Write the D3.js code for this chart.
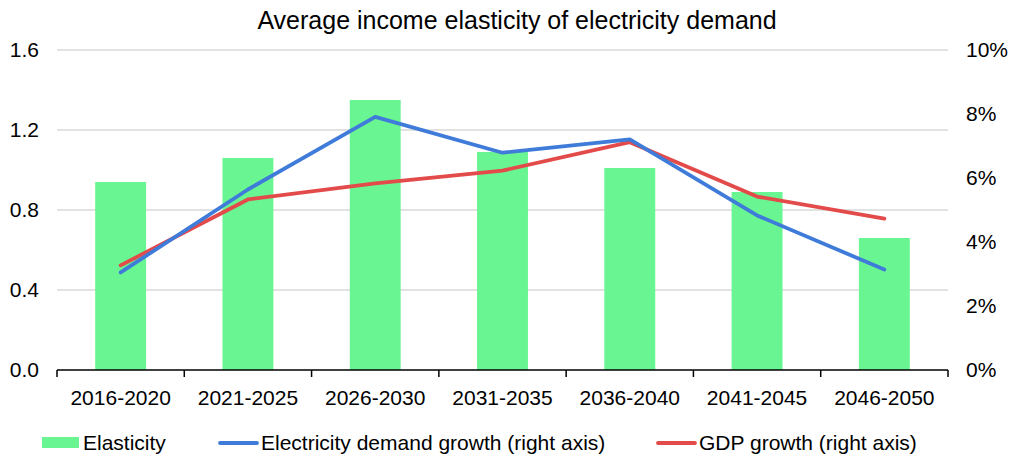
<!DOCTYPE html>
<html>
<head>
<meta charset="utf-8">
<script src="https://cdn.jsdelivr.net/npm/d3@7"></script>
<style>
  html, body { margin: 0; padding: 0; background: #fff; }
  svg { display: block; font-family: "Liberation Sans", Arial, sans-serif; }
</style>
</head>
<body>
<svg id="chart" width="1012" height="457"></svg>
<script>
// Periods and series
const periods = ["2016-2020", "2021-2025", "2026-2030", "2031-2035", "2036-2040", "2041-2045", "2046-2050"];
const elasticity = [0.94, 1.06, 1.35, 1.09, 1.01, 0.89, 0.66];
const demandGrowth = [3.05, 5.64, 7.91, 6.79, 7.21, 4.83, 3.14];   // % per year
const gdpGrowth = [3.27, 5.33, 5.83, 6.23, 7.12, 5.42, 4.73];      // % per year
const leftTicks = [0, 0.4, 0.8, 1.2, 1.6];
const rightTicks = [0, 2, 4, 6, 8, 10];

const colors = { bar: "#6af593", demand: "#3f7bd9", gdp: "#e34a4a", grid: "#d9d9d9" };
const fontSize = 21;

const svg = d3.select("#chart");
const margin = { left: 57, right: 64, top: 50, bottom: 87 };
const W = 1012, H = 457;
const x0 = margin.left, x1 = W - margin.right;
const y0 = H - margin.bottom, y1 = margin.top;

const x = d3.scaleBand().domain(periods).range([x0, x1]).paddingInner(0.6).paddingOuter(0.3);
const xStep = d3.scaleBand().domain(periods).range([x0, x1]);
const yL = d3.scaleLinear().domain([0, 1.6]).range([y0, y1]);
const yR = d3.scaleLinear().domain([0, 10]).range([y0, y1]);

// Gridlines
svg.append("g").selectAll("line").data(leftTicks.filter(d => d > 0)).join("line")
  .attr("x1", x0).attr("x2", x1)
  .attr("y1", d => yL(d)).attr("y2", d => yL(d))
  .attr("stroke", colors.grid).attr("stroke-width", 1.3);

// Bars
svg.append("g").selectAll("rect").data(periods).join("rect")
  .attr("x", d => x(d))
  .attr("width", x.bandwidth())
  .attr("y", (d, i) => yL(elasticity[i]))
  .attr("height", (d, i) => y0 - yL(elasticity[i]))
  .attr("fill", colors.bar);

// Lines on the right axis
const line = d3.line()
  .x((d, i) => xStep(periods[i]) + xStep.bandwidth() / 2)
  .y(d => yR(d));

[[gdpGrowth, colors.gdp], [demandGrowth, colors.demand]].forEach(([vals, c]) => {
  svg.append("path").datum(vals)
    .attr("d", line)
    .attr("fill", "none")
    .attr("stroke", c)
    .attr("stroke-width", 3.8)
    .attr("stroke-linejoin", "round")
    .attr("stroke-linecap", "round");
});

// Category axis with ticks at band boundaries
const bounds = periods.map(p => xStep(p)).concat([x1]);
const axisG = svg.append("g");
axisG.append("line").attr("x1", x0).attr("x2", x1).attr("y1", y0).attr("y2", y0)
  .attr("stroke", "#000").attr("stroke-width", 1.5);
axisG.selectAll("line.tick").data(bounds).join("line").attr("class", "tick")
  .attr("x1", d => d).attr("x2", d => d).attr("y1", y0).attr("y2", y0 + 7)
  .attr("stroke", "#000").attr("stroke-width", 1.5);
axisG.selectAll("text").data(periods).join("text")
  .attr("x", d => xStep(d) + xStep.bandwidth() / 2)
  .attr("y", y0 + 35)
  .attr("text-anchor", "middle")
  .attr("font-size", fontSize)
  .attr("fill", "#000")
  .text(d => d);

// Left axis labels
svg.append("g").selectAll("text").data(leftTicks).join("text")
  .attr("x", 39).attr("y", d => yL(d) + 7)
  .attr("text-anchor", "end")
  .attr("font-size", fontSize)
  .text(d => d3.format(".1f")(d));

// Right axis labels
svg.append("g").selectAll("text").data(rightTicks).join("text")
  .attr("x", 966).attr("y", d => yR(d) + 7)
  .attr("text-anchor", "start")
  .attr("font-size", fontSize)
  .text(d => d + "%");

// Title
svg.append("text")
  .attr("x", 517).attr("y", 29)
  .attr("text-anchor", "middle")
  .attr("font-size", 25)
  .text("Average income elasticity of electricity demand");

// Legend
const lg = svg.append("g");
lg.append("rect").attr("x", 42).attr("y", 437).attr("width", 37).attr("height", 11).attr("fill", colors.bar);
lg.append("text").attr("x", 83).attr("y", 450).attr("font-size", fontSize).text("Elasticity");
lg.append("line").attr("x1", 220).attr("x2", 257).attr("y1", 443).attr("y2", 443)
  .attr("stroke", colors.demand).attr("stroke-width", 3.8).attr("stroke-linecap", "round");
lg.append("text").attr("x", 261).attr("y", 450).attr("font-size", fontSize).text("Electricity demand growth (right axis)");
lg.append("line").attr("x1", 658).attr("x2", 695).attr("y1", 443).attr("y2", 443)
  .attr("stroke", colors.gdp).attr("stroke-width", 3.8).attr("stroke-linecap", "round");
lg.append("text").attr("x", 699).attr("y", 450).attr("font-size", fontSize).text("GDP growth (right axis)");
</script>
</body>
</html>
